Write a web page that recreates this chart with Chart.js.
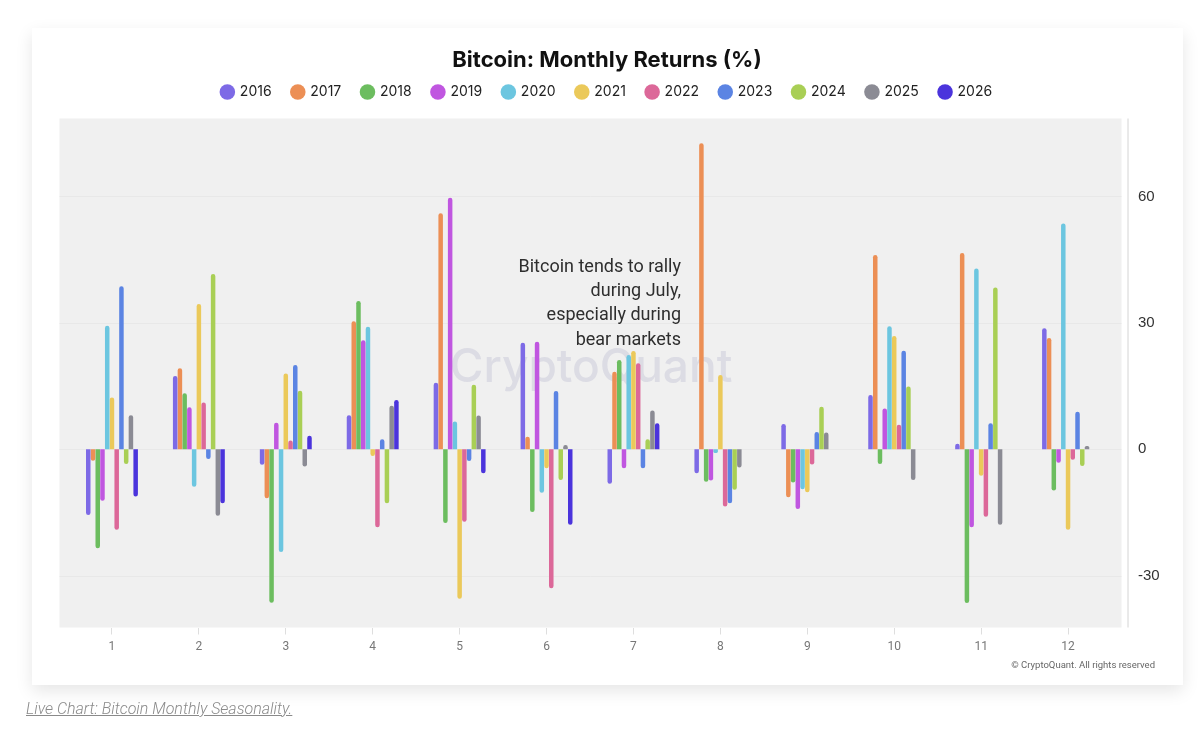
<!DOCTYPE html>
<html>
<head>
<meta charset="utf-8">
<script src="https://cdn.jsdelivr.net/npm/chart.js@4"></script>
<style>
  html, body { margin: 0; padding: 0; background: #ffffff; }
  body { width: 1200px; height: 736px; position: relative; overflow: hidden; }
  .card {
    position: absolute; left: 32px; top: 28px; width: 1151px; height: 657px;
    background: #ffffff; box-shadow: 0 6px 16px rgba(0, 0, 0, 0.10);
  }
  #seasonChart { position: absolute; left: 0; top: 0; }
  .caption {
    position: absolute; left: 26px; top: 699px;
    font-family: Roboto, sans-serif; font-weight: 300; font-style: italic;
    font-size: 16px; color: #8a8a8a; text-decoration: underline;
  }
</style>
</head>
<body>
<div class="card"></div>
<canvas id="seasonChart" width="1200" height="736"></canvas>
<div class="caption">Live Chart: Bitcoin Monthly Seasonality.</div>

<script>
// months on the x axis
const months = ['1', '2', '3', '4', '5', '6', '7', '8', '9', '10', '11', '12'];
const years = ['2016', '2017', '2018', '2019', '2020', '2021', '2022', '2023', '2024', '2025', '2026'];

// monthly returns (%), one array per year
const r2016 = [-15.6, 17.4, -3.7, 8.1, 15.8, 25.3, -8.2, -5.7, 6.0, 12.9, 1.3, 28.7];
const r2017 = [-2.7, 19.2, -11.6, 30.4, 56.0, 3.0, 18.4, 72.6, -11.4, 46.1, 46.6, 26.4];
const r2018 = [-23.5, 13.3, -36.4, 35.2, -17.5, -14.9, 21.2, -7.7, -7.9, -3.5, -36.5, -9.8];
const r2019 = [-12.2, 10.0, 6.3, 25.9, 59.7, 25.5, -4.5, -7.4, -14.2, 9.7, -18.5, -3.2];
const r2020 = [29.3, -8.9, -24.4, 29.1, 6.6, -10.3, 22.4, -0.9, -9.5, 29.2, 42.9, 53.6];
const r2021 = [12.3, 34.5, 18.0, -1.6, -35.5, -4.5, 23.3, 17.6, -10.2, 26.9, -6.3, -19.1];
const r2022 = [-19.1, 11.1, 2.1, -18.5, -17.2, -33.0, 20.4, -13.6, -3.6, 5.8, -16.0, -2.5];
const r2023 = [38.7, -2.3, 20.0, 2.4, -2.8, 13.8, -4.5, -12.8, 4.1, 23.4, 6.2, 8.9];
const r2024 = [-3.5, 41.6, 13.9, -12.8, 15.3, -7.3, 2.4, -9.6, 10.1, 14.9, 38.4, -4.0];
const r2025 = [8.1, -15.8, -4.1, 10.3, 8.0, 1.0, 9.2, -4.3, 4.0, -7.3, -17.9, 0.8];
const r2026 = [-11.2, -12.8, 3.2, 11.7, -5.7, -17.9, 6.2, null, null, null, null, null];

const yTicks = [-30, 0, 30, 60];

const series = [r2016, r2017, r2018, r2019, r2020, r2021, r2022, r2023, r2024, r2025, r2026];
const colors = ['#7d6ae6', '#ec8f55', '#6cbd5f', '#c056e0', '#6cc6e0', '#ebc95a',
                '#dc6899', '#5b84e3', '#a9cf55', '#8b8b94', '#4b34dc'];

// gray panel, grid lines, axis rule and watermark
const panelPlugin = {
    id: 'panel',
    beforeDraw(chart) {
        const { ctx, chartArea } = chart;
        const y = chart.scales.y;
        const left = chartArea.left - 9, right = chartArea.right + 10;
        ctx.save();
        ctx.fillStyle = '#f0f0f0';
        ctx.fillRect(left, chartArea.top, right - left, chartArea.bottom - chartArea.top);
        ctx.strokeStyle = '#e8e8e8';
        ctx.lineWidth = 1;
        yTicks.forEach(v => {
            const py = Math.round(y.getPixelForValue(v)) + 0.5;
            ctx.beginPath();
            ctx.moveTo(left, py);
            ctx.lineTo(right, py);
            ctx.stroke();
        });
        ctx.strokeStyle = '#d4d4d4';
        ctx.beginPath();
        ctx.moveTo(chartArea.right + 16.5, chartArea.top);
        ctx.lineTo(chartArea.right + 16.5, chartArea.bottom);
        ctx.stroke();
        ctx.restore();
    },
    beforeDatasetsDraw(chart) {
        const { ctx } = chart;
        ctx.save();
        ctx.font = '500 46px Inter';
        ctx.fillStyle = 'rgba(195, 195, 212, 0.45)';
        ctx.textAlign = 'center';
        ctx.textBaseline = 'middle';
        ctx.fillText('CryptoQuant', 591, 368);
        ctx.restore();
    },
    afterDatasetsDraw(chart) {
        const { ctx } = chart;
        ctx.save();
        ctx.font = '18px Roboto';
        ctx.fillStyle = '#2e2e2e';
        ctx.textAlign = 'right';
        ctx.textBaseline = 'middle';
        const lines = ['Bitcoin tends to rally', 'during July,', 'especially during', 'bear markets'];
        lines.forEach((t, i) => ctx.fillText(t, 681, 267 + i * 24.4));

        ctx.font = '9.5px Roboto';
        ctx.fillStyle = '#666666';
        ctx.fillText('\u00A9 CryptoQuant. All rights reserved', 1155, 666);
        ctx.restore();
    }
};

// extra room under the legend
const legendGap = {
    id: 'legendGap',
    beforeInit(chart) {
        const fit = chart.legend.fit;
        chart.legend.fit = function () {
            fit.bind(chart.legend)();
            this.height += 9.5;
        };
    }
};

Chart.defaults.font.family = 'Inter';

new Chart(document.getElementById('seasonChart'), {
    type: 'bar',
    data: {
        labels: months,
        datasets: years.map((yr, i) => ({
            label: yr,
            data: series[i],
            backgroundColor: colors[i],
            borderColor: colors[i],
            borderWidth: 0,
            borderRadius: 3,
            barPercentage: 0.95,
            categoryPercentage: 0.6
        }))
    },
    options: {
        responsive: false,
        devicePixelRatio: 1,
        animation: false,
        layout: { padding: { left: 14, right: 0, top: 0, bottom: 0 } },
        plugins: {
            title: {
                display: true,
                text: 'Bitcoin: Monthly Returns (%)',
                color: '#111111',
                font: { size: 22, weight: 'bold' },
                padding: { top: 46.8, bottom: -8.9 }
            },
            legend: {
                display: true,
                labels: {
                    usePointStyle: true,
                    pointStyle: 'circle',
                    boxWidth: 11,
                    boxHeight: 11,
                    padding: 20.7,
                    color: '#222222',
                    font: { size: 14 }
                }
            },
            tooltip: { enabled: false }
        },
        scales: {
            x: {
                grid: {
                    display: true,
                    drawOnChartArea: false,
                    drawTicks: true,
                    tickLength: 7,
                    offset: false,
                    color: '#dedede'
                },
                border: { display: false },
                ticks: {
                    color: '#777777',
                    padding: 5,
                    font: { family: 'Roboto', size: 12 }
                },
                afterFit(scale) { scale.height = 108.5; }
            },
            y: {
                position: 'right',
                min: -42.3,
                max: 78.5,
                grid: { display: false, drawTicks: false },
                border: { display: false },
                ticks: {
                    padding: 26.5,
                    color: '#333333',
                    font: { family: 'Liberation Sans', size: 15 }
                },
                afterBuildTicks(scale) { scale.ticks = yTicks.map(v => ({ value: v })); },
                afterFit(scale) { scale.width = 88.5; }
            },
            // empty spacer on the left so the plot sits where the reference has it
            spacer: {
                type: 'linear',
                position: 'left',
                grid: { display: false, drawTicks: false },
                border: { display: false },
                ticks: { display: false },
                afterFit(scale) { scale.width = 54.5; }
            }
        }
    },
    plugins: [panelPlugin, legendGap]
});
</script>
</body>
</html>
